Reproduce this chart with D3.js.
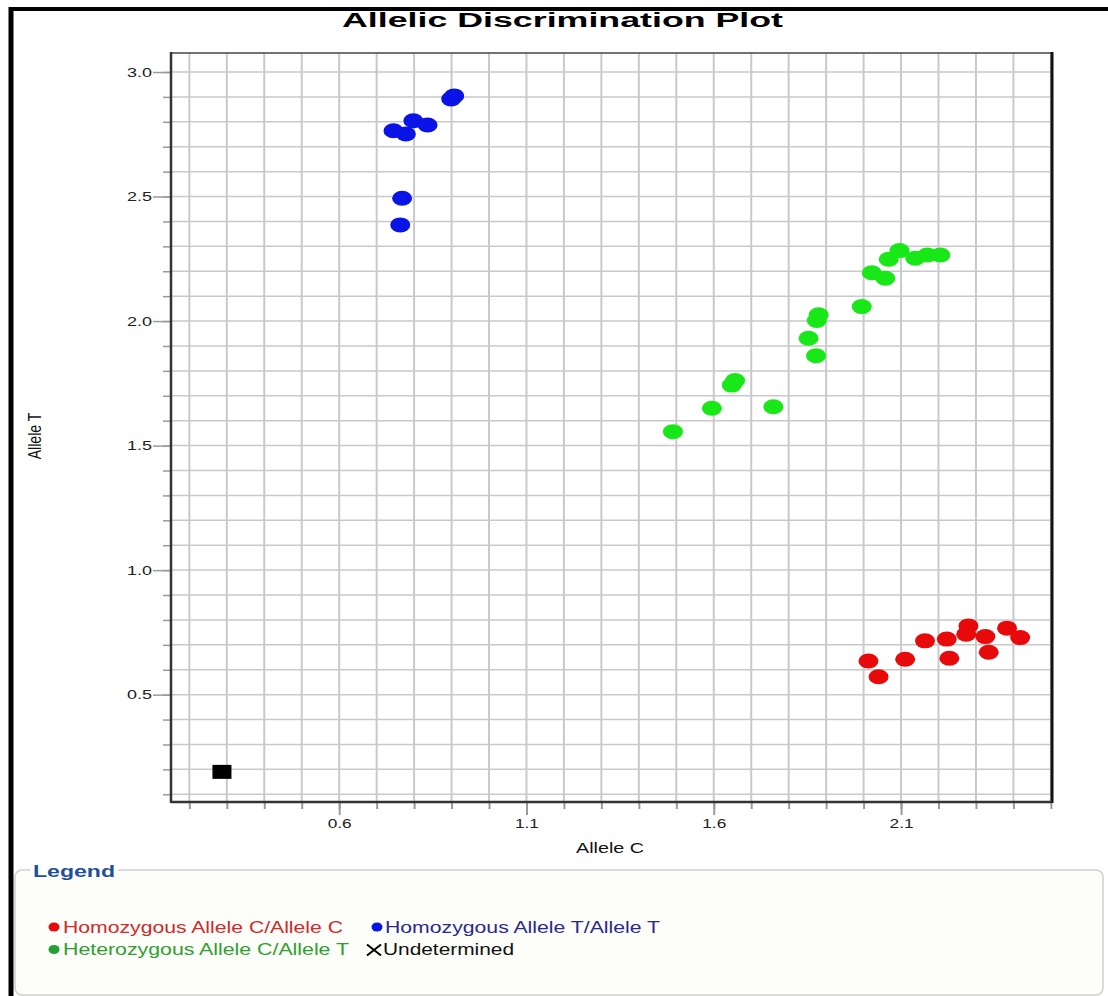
<!DOCTYPE html>
<html><head><meta charset="utf-8">
<script src="https://cdn.jsdelivr.net/npm/d3@7"></script>
<style>html,body{margin:0;padding:0;background:#fff;} svg{display:block;font-family:"Liberation Sans",Arial,sans-serif;}</style>
</head><body>
<svg id="c" width="1108" height="996"></svg>
<script>
// ---------- data ----------
const chartTitle = "Allelic Discrimination Plot";
const xAxisLabel = "Allele C";
const yAxisLabel = "Allele T";
const xMajorTicks = [0.6, 1.1, 1.6, 2.1];
const xTickLabels = ["0.6", "1.1", "1.6", "2.1"];
const yMajorTicks = [0.5, 1.0, 1.5, 2.0, 2.5, 3.0];
const yTickLabels = ["0.5", "1.0", "1.5", "2.0", "2.5", "3.0"];
const legendLabels = ["Homozygous Allele C/Allele C", "Homozygous Allele T/Allele T", "Heterozygous Allele C/Allele T", "Undetermined"];

const homozygousC = [[2.013,0.635],[2.040,0.572],[2.111,0.642],[2.164,0.716],[2.222,0.723],[2.229,0.646],
  [2.274,0.743],[2.280,0.776],[2.325,0.733],[2.334,0.670],[2.383,0.767],[2.418,0.729]];
const homozygousT = [[0.899,2.892],[0.907,2.904],[0.798,2.804],[0.836,2.787],[0.745,2.764],[0.778,2.751],
  [0.768,2.493],[0.763,2.386]];
const heterozygous = [[1.491,1.556],[1.595,1.650],[1.759,1.656],[1.648,1.743],[1.657,1.761],[1.853,1.931],
  [1.873,1.861],[1.875,2.002],[1.880,2.025],[1.995,2.058],[2.022,2.194],[2.058,2.172],[2.067,2.248],
  [2.096,2.283],[2.138,2.252],[2.170,2.265],[2.205,2.265]];
const undetermined = [[0.287,0.19]];

// ---------- layout ----------
const svg = d3.select("#c");
const L = 171, R = 1052, T = 53, B = 802;
const x = d3.scaleLinear().domain([0.151, 2.503]).range([L, R]);
const y = d3.scaleLinear().domain([0.069, 3.0763]).range([B, T]);
const xGrid = d3.range(2, 26).map(d => d / 10);
const yGrid = d3.range(1, 31).map(d => d / 10);

// outer frame
svg.append("line").attr("x1", 9).attr("x2", 1108).attr("y1", 9).attr("y2", 9).attr("stroke", "#000").attr("stroke-width", 4);
svg.append("line").attr("x1", 11).attr("x2", 11).attr("y1", 7).attr("y2", 996).attr("stroke", "#000").attr("stroke-width", 5);

// title
svg.append("text").attr("x", 342).attr("y", 27).attr("font-size", 20).attr("font-weight", "bold")
  .attr("textLength", 441).attr("lengthAdjust", "spacingAndGlyphs").attr("fill", "#000").text(chartTitle);

// grid
const grid = svg.append("g");
grid.selectAll(".vg").data(xGrid).join("line").attr("class", "vg")
  .attr("x1", d => x(d)).attr("x2", d => x(d)).attr("y1", T).attr("y2", B)
  .attr("stroke", "#c9c9c9").attr("stroke-width", 2);
grid.selectAll(".hg").data(yGrid).join("line").attr("class", "hg")
  .attr("x1", L).attr("x2", R).attr("y1", d => y(d)).attr("y2", d => y(d))
  .attr("stroke", "#c9c9c9").attr("stroke-width", 1.5);

// axes: minor ticks
svg.append("g").attr("transform", `translate(0,${B})`)
  .call(d3.axisBottom(x).tickValues(xGrid).tickSize(7).tickFormat(""))
  .call(g => { g.select(".domain").remove(); g.selectAll("line").attr("stroke", "#9a9a9a").attr("stroke-width", 2); });
svg.append("g").attr("transform", `translate(${L},0)`)
  .call(d3.axisLeft(y).tickValues(yGrid).tickSize(8).tickFormat(""))
  .call(g => { g.select(".domain").remove(); g.selectAll("line").attr("stroke", "#9a9a9a").attr("stroke-width", 1.5); });
// major ticks + labels
svg.append("g").attr("transform", `translate(0,${B})`)
  .call(d3.axisBottom(x).tickValues(xMajorTicks).tickSize(13).tickPadding(4).tickFormat((d, i) => xTickLabels[i]))
  .call(g => {
    g.select(".domain").remove();
    g.selectAll("line").attr("stroke", "#9a9a9a").attr("stroke-width", 2);
    g.selectAll("text").attr("font-size", 12.5).attr("fill", "#222").attr("font-family", "Liberation Sans, Arial, sans-serif")
      .attr("textLength", 24).attr("lengthAdjust", "spacingAndGlyphs");
  });
svg.append("g").attr("transform", `translate(${L},0)`)
  .call(d3.axisLeft(y).tickValues(yMajorTicks).tickSize(18).tickPadding(1).tickFormat((d, i) => yTickLabels[i]))
  .call(g => {
    g.select(".domain").remove();
    g.selectAll("line").attr("stroke", "#9a9a9a").attr("stroke-width", 1.5);
    g.selectAll("text").attr("font-size", 12.5).attr("fill", "#222").attr("font-family", "Liberation Sans, Arial, sans-serif")
      .attr("textLength", 25).attr("lengthAdjust", "spacingAndGlyphs");
  });

// plot frame
svg.append("line").attr("x1", L).attr("x2", R).attr("y1", T).attr("y2", T).attr("stroke", "#444").attr("stroke-width", 1.5);
svg.append("line").attr("x1", R).attr("x2", R).attr("y1", T - 1).attr("y2", B + 1).attr("stroke", "#111").attr("stroke-width", 3);
svg.append("line").attr("x1", L).attr("x2", L).attr("y1", T - 1).attr("y2", B + 1).attr("stroke", "#333").attr("stroke-width", 2.5);
svg.append("line").attr("x1", L).attr("x2", R).attr("y1", B).attr("y2", B).attr("stroke", "#333").attr("stroke-width", 2.5);

// axis titles
svg.append("text").attr("x", 576).attr("y", 853).attr("font-size", 14).attr("fill", "#111")
  .attr("textLength", 68).attr("lengthAdjust", "spacingAndGlyphs").text(xAxisLabel);
svg.append("g").attr("transform", "translate(41,436) scale(1.33,1)")
  .append("text").attr("transform", "rotate(-90)").attr("text-anchor", "middle").attr("font-size", 14).attr("fill", "#111").text(yAxisLabel);

// points
const pts = svg.append("g");
function dots(data, color) {
  pts.append("g").selectAll("ellipse").data(data).join("ellipse")
    .attr("cx", d => x(d[0])).attr("cy", d => y(d[1])).attr("rx", 10).attr("ry", 7.5).attr("fill", color);
}
dots(homozygousT, "#0a14e6");
dots(heterozygous, "#18e818");
dots(homozygousC, "#e80a0a");
pts.append("g").selectAll("rect").data(undetermined).join("rect")
  .attr("x", d => x(d[0]) - 9.5).attr("y", d => y(d[1]) - 7).attr("width", 19).attr("height", 14).attr("fill", "#000");

// legend
const lg = svg.append("g");
lg.append("rect").attr("x", 15).attr("y", 870).attr("width", 1088).attr("height", 125).attr("rx", 7)
  .attr("fill", "#fdfdfa").attr("stroke", "#cfcfcf").attr("stroke-width", 1.5);
lg.append("rect").attr("x", 30).attr("y", 862).attr("width", 88).attr("height", 16).attr("fill", "#fff");
lg.append("text").attr("x", 33).attr("y", 877).attr("font-size", 17).attr("font-weight", "bold").attr("fill", "#1f4f9e")
  .attr("textLength", 82).attr("lengthAdjust", "spacingAndGlyphs").text("Legend");
const items = [
  {label: legendLabels[0], dot: "#e80a0a", text: "#d02a2a", dx: 54, tx: 63, len: 280, row: 0},
  {label: legendLabels[1], dot: "#0a14e6", text: "#2a2a8c", dx: 377, tx: 385, len: 275, row: 0},
  {label: legendLabels[2], dot: "#22a032", text: "#2fa02f", dx: 54, tx: 63, len: 286, row: 1},
  {label: legendLabels[3], dot: null, text: "#111", dx: 374, tx: 383, len: 131, row: 1}
];
items.forEach(it => {
  const cy = 927 + it.row * 22.5;
  if (it.dot) {
    lg.append("ellipse").attr("cx", it.dx).attr("cy", cy).attr("rx", 5.5).attr("ry", 4.5).attr("fill", it.dot);
  } else {
    lg.append("path").attr("d", `M${it.dx - 7},${cy - 5}L${it.dx + 7},${cy + 6}M${it.dx + 7},${cy - 5}L${it.dx - 7},${cy + 6}`)
      .attr("stroke", "#000").attr("stroke-width", 2);
  }
  lg.append("text").attr("x", it.tx).attr("y", cy + 3 + 2.5).attr("font-size", 16).attr("fill", it.text)
    .attr("textLength", it.len).attr("lengthAdjust", "spacingAndGlyphs").text(it.label);
});
</script>
</body></html>
